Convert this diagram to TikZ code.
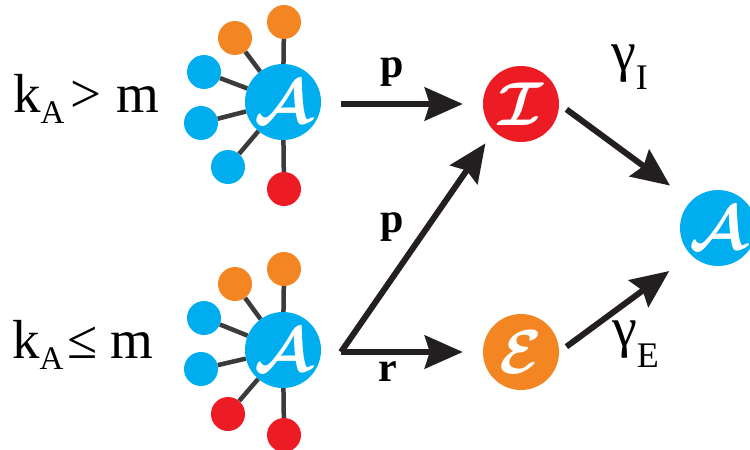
\RequirePackage{fix-cm}
\documentclass[tikz,border=0pt]{standalone}
\usepackage{fontspec}
\setmainfont{Liberation Serif}
\usetikzlibrary{arrows.meta}
\definecolor{cblue}{HTML}{00AEEF}
\definecolor{cred}{HTML}{ED1C24}
\definecolor{corange}{HTML}{F38623}
\definecolor{cgrey}{HTML}{3B3B3B}
\definecolor{cdark}{HTML}{231F20}
\tikzset{
  bignode/.style={circle, minimum size=76pt, inner sep=0pt, text=white, font=\fontsize{62}{62}\selectfont\boldmath},
  sat/.style={circle, minimum size=34pt, inner sep=0pt},
  link/.style={draw=cgrey, line width=4.5pt},
  flow/.style={draw=cdark, line width=6pt, -{Stealth[length=38pt,width=33pt,inset=5pt]}},
  lab/.style={font=\fontsize{42}{42}\selectfont\bfseries, inner sep=0pt},
  cond/.style={font=\fontsize{55}{55}\selectfont, inner sep=0pt, anchor=base west},
  rate/.style={font=\fontsize{56}{56}\selectfont, inner sep=0pt, anchor=base west},
}
\begin{document}
\begin{tikzpicture}[x=1pt,y=-1pt]
\useasboundingbox (0,0) rectangle (750,450);
% conditions
\node[cond] (c1) at (13,112) {k\raisebox{-11pt}{\fontsize{33}{33}\selectfont A}\hspace{6pt}>\hspace{15pt}m};
\node[cond] (c2) at (12,358) {k\raisebox{-11pt}{\fontsize{33}{33}\selectfont A}\hspace{4pt}≤\hspace{13pt}m};
% top hub
\node[bignode, fill=cblue] (h1) at (283,102) {$\mathcal{A}$};
\node[sat, fill=corange] (t1) at (284,22) {};
\node[sat, fill=corange] (t2) at (235,38) {};
\node[sat, fill=cblue] (t3) at (204,72) {};
\node[sat, fill=cblue] (t4) at (201,123) {};
\node[sat, fill=cblue] (t5) at (228,167) {};
\node[sat, fill=cred] (t6) at (284,189) {};
\foreach \s in {t1,t2,t3,t4,t5,t6} \draw[link] (h1) -- (\s);
% bottom hub
\node[bignode, fill=cblue] (h2) at (283,350) {$\mathcal{A}$};
\node[sat, fill=corange] (b1) at (284,269) {};
\node[sat, fill=corange] (b2) at (235,284) {};
\node[sat, fill=cblue] (b3) at (204,318) {};
\node[sat, fill=cblue] (b4) at (201,369) {};
\node[sat, fill=cred] (b5) at (228,414) {};
\node[sat, fill=cred] (b6) at (284,435) {};
\foreach \s in {b1,b2,b3,b4,b5,b6} \draw[link] (h2) -- (\s);
% states
\node[bignode, fill=cred] (I) at (521,104) {$\mathcal{I}$};
\node[bignode, fill=corange] (E) at (521,352) {$\mathcal{E}$};
\node[bignode, fill=cblue] (A) at (718,228) {$\mathcal{A}$};
\coordinate (fork) at (341,352);
% arrows
\draw[flow, shorten <=20pt, shorten >=20pt] (h1.east |- I) -- (I);
\draw[flow, shorten >=15pt] (fork) -- (I.225);
\draw[flow, shorten >=20pt] (fork) -- (E);
\draw[flow, shorten <=9pt, shorten >=26pt] (I.east) -- (A.135);
\draw[flow, shorten <=9pt, shorten >=27pt] (E.east) -- (A.225);
% labels
\node[lab] (lp1) at (392,72) {p};
\node[lab] (lp2) at (392,227) {p};
\node[lab] (lr) at (388,372) {r};
\node[rate] (gI) at (611,70) {γ\raisebox{-19pt}{\fontsize{36}{36}\selectfont I}};
\node[rate] (gE) at (612,346) {γ\raisebox{-21pt}{\fontsize{36}{36}\selectfont E}};
\end{tikzpicture}
\end{document}
